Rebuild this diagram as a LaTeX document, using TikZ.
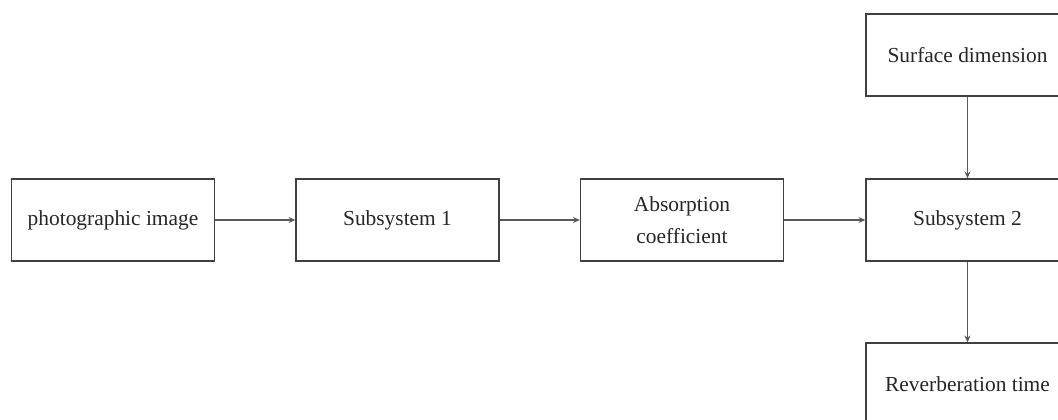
\documentclass[tikz,border=0pt]{standalone}
\usepackage{fontspec}
\setmainfont{Liberation Serif}
\usetikzlibrary{arrows.meta}
\begin{document}
\begin{tikzpicture}[x=0.5pt,y=-0.5pt,
  blockbox/.style={draw=black!75, line width=0.7pt, fill=white,
    minimum width=101.5pt, minimum height=41pt, inner sep=2pt,
    align=center, font=\fontsize{10.7}{16}\selectfont, text=black!85},
  flow/.style={draw=black!65, line width=0.6pt,
    -{Stealth[length=3.4pt,width=3pt,fill=black]}}]
  \useasboundingbox (0,0) rectangle (1058,419);
  \begin{scope}
    \clip (0,0) rectangle (1058,419);
    \node[blockbox] (img)  at (113,220)   {photographic image};
    \node[blockbox] (sub1) at (397.5,220) {Subsystem 1};
    \node[blockbox] (abs)  at (682,220)   {Absorption\\coefficient};
    \node[blockbox] (sub2) at (967.5,220) {Subsystem 2};
    \node[blockbox] (surf) at (967.5,55)  {Surface dimension};
    \node[blockbox] (rev)  at (967.5,384) {Reverberation time};
    \draw[flow] (img) -- (sub1);
    \draw[flow] (sub1) -- (abs);
    \draw[flow] (abs) -- (sub2);
    \draw[flow] (surf) -- (sub2);
    \draw[flow] (sub2) -- (rev);
  \end{scope}
\end{tikzpicture}
\end{document}
